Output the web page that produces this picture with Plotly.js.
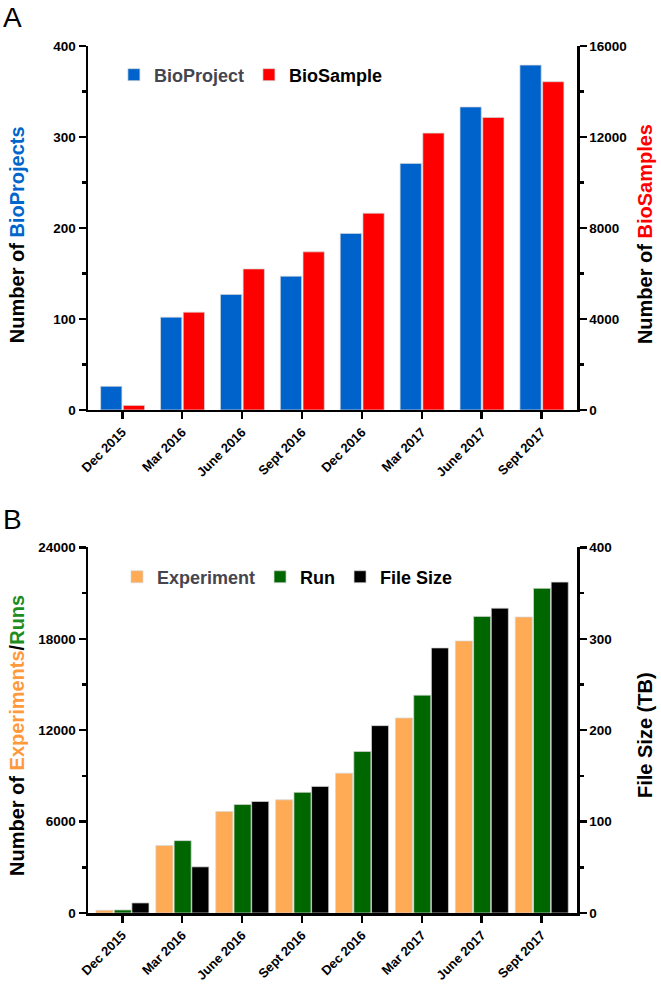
<!DOCTYPE html>
<html>
<head>
<meta charset="utf-8">
<script src="https://cdn.plot.ly/plotly-3.0.1.min.js"></script>
<style>html,body{margin:0;padding:0;background:#fff;}#chart{width:661px;height:985px;}</style>
</head>
<body>
<div id="chart"></div>
<script>
// ---- data ----
const categories = ['Dec 2015','Mar 2016','June 2016','Sept 2016','Dec 2016','Mar 2017','June 2017','Sept 2017'];
const bioProject = [26, 102, 127, 147, 194, 271, 333, 379];
const bioSample  = [200, 4300, 6200, 6950, 8650, 12170, 12860, 14430];
const experiment = [180, 4430, 6660, 7430, 9180, 12800, 17860, 19430];
const run        = [200, 4750, 7120, 7920, 10600, 14300, 19470, 21310];
const fileSizeTB = [11, 50.5, 122, 138.5, 205, 290, 333.5, 362];

const FONT = 'Liberation Sans, Arial, Helvetica, sans-serif';
const BLUE = '#0063CC', RED = '#FF0000', ORANGE = '#FFAA55', GREEN = '#006600', BLACK = '#000000';
const edge = {color: 'rgba(215,215,215,0.9)', width: 0.8};

const traces = [
  {type:'bar', x:categories, y:bioProject, xaxis:'x', yaxis:'y', name:'<span style="color:#45454f">BioProject</span>',
   marker:{color:BLUE, line:edge}, offset:-0.362, width:0.355, legend:'legend'},
  {type:'bar', x:categories, y:bioSample, xaxis:'x', yaxis:'y2', name:'BioSample',
   marker:{color:RED, line:edge}, offset:0.017, width:0.355, legend:'legend'},
  {type:'bar', x:categories, y:experiment, xaxis:'x2', yaxis:'y3', name:'<span style="color:#45454f">Experiment</span>',
   marker:{color:ORANGE, line:edge}, offset:-0.44, width:0.285, legend:'legend2'},
  {type:'bar', x:categories, y:run, xaxis:'x2', yaxis:'y3', name:'Run',
   marker:{color:GREEN, line:edge}, offset:-0.135, width:0.285, legend:'legend2'},
  {type:'bar', x:categories, y:fileSizeTB, xaxis:'x2', yaxis:'y4', name:'File Size',
   marker:{color:BLACK, line:edge}, offset:0.16, width:0.285, legend:'legend2'}
];

const tickFont = {family:FONT, size:13.5, color:'#000', weight:'bold'};
function xAx(anchor){
  return {domain:[0,1], anchor:anchor, type:'category', range:[-0.573, 7.591],
    showline:true, linecolor:'#000', linewidth:2.5, ticks:'outside', ticklen:7, tickwidth:2.5, tickcolor:'#000',
    tickangle:-45, tickfont:{family:FONT, size:13, color:'#000', weight:'bold'},
    showgrid:false, zeroline:false, fixedrange:true};
}
function yAx(domain, range, dtick, minor, side, extra){
  return Object.assign({domain:domain, range:range, dtick:dtick, side:side, tickformat:'d',
    showline:true, linecolor:'#000', linewidth:2.5, ticks:'outside', ticklen:7, tickwidth:2.5, tickcolor:'#000',
    minor:{dtick:minor, ticks:'outside', ticklen:4, tickwidth:2.5, tickcolor:'#000', showgrid:false},
    tickfont:tickFont, showgrid:false, zeroline:false, fixedrange:true}, extra||{});
}
const domA = [0.5802, 1], domB = [0, 0.4217];
const titleFont = {family:FONT, size:20, color:'#000', weight:'bold'};

const layout = {
  width:661, height:985,
  margin:{l:88, r:84, t:46, b:72},
  paper_bgcolor:'#fff', plot_bgcolor:'#fff',
  barmode:'overlay', showlegend:true, hovermode:false,
  xaxis: xAx('y'),
  xaxis2: xAx('y3'),
  yaxis: yAx(domA, [0,400], 100, 50, 'left', {anchor:'x'}),
  yaxis2: yAx(domA, [0,16000], 4000, 2000, 'right', {anchor:'x', overlaying:'y'}),
  yaxis3: yAx(domB, [0,24000], 6000, 3000, 'left', {anchor:'x2'}),
  yaxis4: yAx(domB, [0,400], 100, 50, 'right', {anchor:'x2', overlaying:'y3'}),
  legend:{orientation:'h', x:0.053, xanchor:'left', y:0.9666, yanchor:'middle', bgcolor:'rgba(0,0,0,0)',
    font:{family:FONT, size:18, color:'#000', weight:'bold'}},
  legend2:{orientation:'h', x:0.0593, xanchor:'left', y:0.3875, yanchor:'middle', bgcolor:'rgba(0,0,0,0)',
    font:{family:FONT, size:18, color:'#000', weight:'bold'}},
  annotations:[
    {xref:'paper', yref:'paper', x:-0.1452, y:0.783, text:'Number of <span style="color:#0066CC">BioProjects</span>',
     textangle:-90, showarrow:false, font:titleFont, xanchor:'center', yanchor:'middle'},
    {xref:'paper', yref:'paper', x:1.139, y:0.783, text:'Number of <span style="color:#FF0000">BioSamples</span>',
     textangle:-90, showarrow:false, font:titleFont, xanchor:'center', yanchor:'middle'},
    {xref:'paper', yref:'paper', x:-0.1452, y:0.2053,
     text:'Number of <span style="color:#FF9A3C">Experiments</span>/<span style="color:#1E8C1E">Runs</span>',
     textangle:-90, showarrow:false, font:titleFont, xanchor:'center', yanchor:'middle'},
    {xref:'paper', yref:'paper', x:1.139, y:0.2053, text:'File Size (TB)',
     textangle:-90, showarrow:false, font:titleFont, xanchor:'center', yanchor:'middle'},
    {xref:'paper', yref:'paper', x:-0.178, y:1.0323, text:'A', showarrow:false,
     font:{family:FONT, size:28, color:'#000'}, xanchor:'left', yanchor:'middle'},
    {xref:'paper', yref:'paper', x:-0.178, y:0.4544, text:'B', showarrow:false,
     font:{family:FONT, size:28, color:'#000'}, xanchor:'left', yanchor:'middle'}
  ]
};

Plotly.newPlot('chart', traces, layout, {displayModeBar:false, staticPlot:true});
</script>
</body>
</html>
